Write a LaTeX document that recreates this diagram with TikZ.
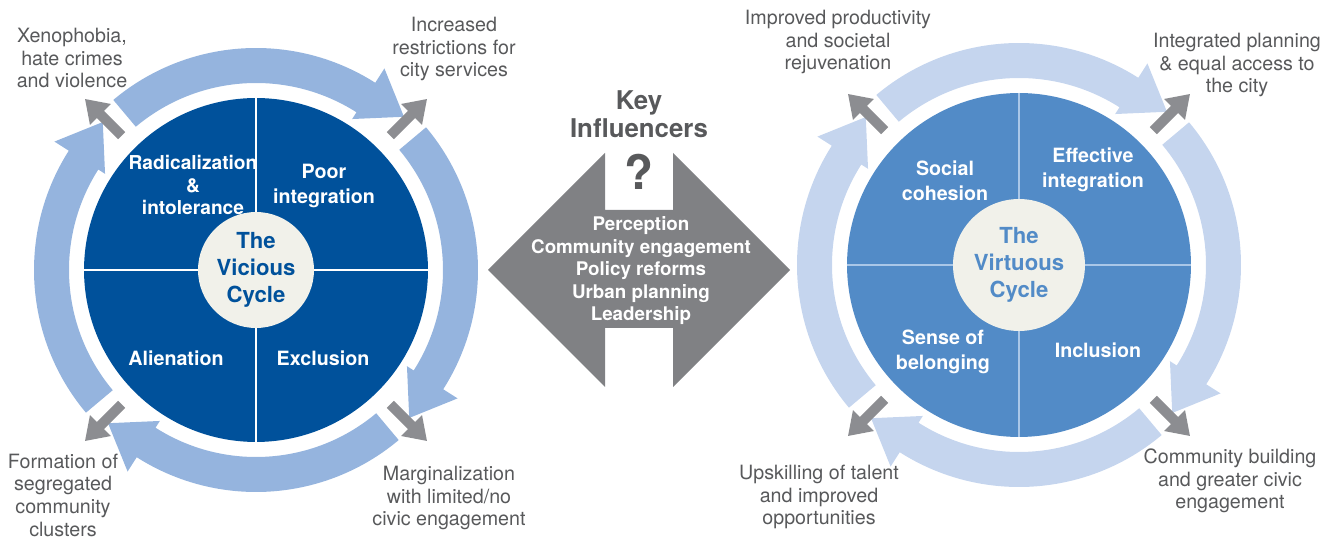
\documentclass[tikz,border=0pt]{standalone}
\usepackage{fontspec}
\setmainfont{TeX Gyre Heros}
\usetikzlibrary{arrows.meta, calc}
\definecolor{viciousblue}{RGB}{0,81,155}
\definecolor{viciousring}{RGB}{149,180,222}
\definecolor{virtuousblue}{RGB}{82,139,199}
\definecolor{virtuousring}{RGB}{197,213,238}
\definecolor{virtuousline}{RGB}{170,199,232}
\definecolor{hubfill}{RGB}{241,241,234}
\definecolor{pointergray}{RGB}{140,141,145}
\definecolor{keygray}{RGB}{128,129,132}
\definecolor{labelgray}{RGB}{88,89,91}

\begin{document}
\begin{tikzpicture}[x=0.02cm, y=0.02cm,
    outlabel/.style={align=center, text=labelgray, font=\fontsize{11.2}{12.9}\selectfont},
    quadlabel/.style={align=center, text=white, font=\bfseries\fontsize{11.2}{14}\selectfont},
    disc/.style={circle, inner sep=0pt, minimum size=6.88cm},
    hub/.style={circle, fill=hubfill, inner sep=0pt, align=center, font=\bfseries\fontsize{12.6}{15.3}\selectfont},
    pointer/.style={-{Triangle[length=0.44cm, width=0.56cm]}, line width=0.2cm, draw=pointergray}]
\useasboundingbox (0,0) rectangle (1323,541);

% the two discs
\node[disc, fill=viciousblue] (lc) at (256,271) {};
\node[disc, fill=virtuousblue] (rc) at (1019,276) {};

% curved ring arrows, clockwise
\foreach \c/\col in {lc/viciousring, rc/virtuousring}
  \foreach \a in {130,40,-50,-140}
    \fill[\col] ($(\c)+(\a:187)$) arc[start angle=\a, delta angle=-72.5, radius=187]
      -- ($(\c)+({\a-72.5}:179)$) -- ($(\c)+({\a-84}:213)$) -- ($(\c)+({\a-72.5}:239)$)
      -- ($(\c)+({\a-72.5}:222)$) arc[start angle={\a-72.5}, delta angle=72.5, radius=222] -- cycle;

% gray pointers to the outcomes
\foreach \c in {lc,rc}
  \foreach \b in {45,135,225,315} {
    \coordinate (\c\b a) at ($(\c)+(\b:190)$);
    \coordinate (\c\b b) at ($(\c)+(\b:242)$);
    \draw [pointer] (\c\b a) -- (\c\b b);
  }

% quarter lines
\draw[white, line width=0.85pt] (lc.west) -- (lc.east) (lc.north) -- (lc.south);
\draw[virtuousline, line width=0.85pt] (rc.west) -- (rc.east) (rc.north) -- (rc.south);

\node[hub, minimum size=2.32cm, text=viciousblue] (lhub) at (256,271) {The\\Vicious\\Cycle};
\node[hub, minimum size=2.64cm, text=virtuousblue] (rhub) at (1019,276) {The\\Virtuous\\Cycle};

% vicious quarters
\node[quadlabel, font=\bfseries\fontsize{10.9}{12.8}\selectfont] (radical) at (193,356) {Radicalization\\\&\\intolerance};
\node[quadlabel] (poor) at (324,355) {Poor\\integration};
\node[quadlabel] (alien) at (176,183) {Alienation};
\node[quadlabel] (exclu) at (323,183) {Exclusion};

% virtuous quarters
\node[quadlabel] (social) at (945,360) {Social\\cohesion};
\node[quadlabel] (effect) at (1093,371) {Effective\\integration};
\node[quadlabel] (belong) at (943,189) {Sense of\\belonging};
\node[quadlabel] (inclu) at (1098,191) {Inclusion};

% outcomes
\node[outlabel] (xeno) at (72,483) {Xenophobia,\\hate crimes\\and violence};
\node[outlabel] (restrict) at (454,492) {Increased\\restrictions for\\city services};
\node[outlabel] (segreg) at (63,46) {Formation of\\segregated\\community\\clusters};
\node[outlabel] (margin) at (449,43) {Marginalization\\with limited/no\\civic engagement};
\node[outlabel] (product) at (838,499) {Improved productivity\\and societal\\rejuvenation};
\node[outlabel] (access) at (1237,476) {Integrated planning\\\& equal access to\\the city};
\node[outlabel] (upskill) at (819,44) {Upskilling of talent\\and improved\\opportunities};
\node[outlabel] (commun) at (1230,60) {Community building\\and greater civic\\engagement};

% key influencers
\fill[keygray] (488,271) -- (605,388) -- (605,331) -- (673,331) -- (673,388) -- (790,271)
  -- (673,154) -- (673,213) -- (605,213) -- (605,154) -- cycle;
\node[align=center, text=labelgray, font=\bfseries\fontsize{14.7}{15.9}\selectfont] (keytitle) at (639,427) {Key\\Influencers};
\node[text=labelgray, font=\bfseries\fontsize{27}{27}\selectfont] (qmark) at (639,369) {?};
\node[align=center, text=white, font=\bfseries\fontsize{10.7}{12.8}\selectfont] (keylist) at (641,270)
  {Perception\\Community engagement\\Policy reforms\\Urban planning\\Leadership};
\end{tikzpicture}
\end{document}
